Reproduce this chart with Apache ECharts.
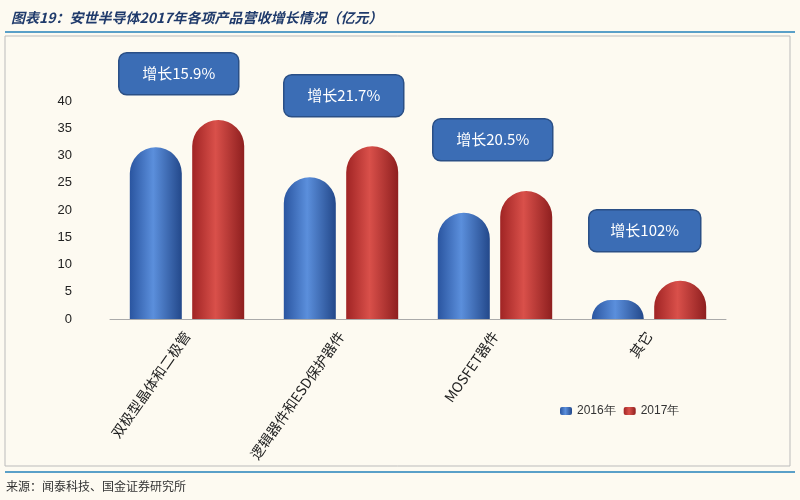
<!DOCTYPE html>
<html><head><meta charset="utf-8">
<script src="https://cdn.jsdelivr.net/npm/echarts@6/dist/echarts.min.js"></script>
<style>body{margin:0;background:#fdfaf1}#c{width:800px;height:500px}</style>
</head><body><div id="c"></div>
<script>
const categories = ['双极型晶体和二极管','逻辑器件和ESD保护器件','MOSFET器件','其它'];
const v2016 = [31.5, 26, 19.5, 3.5];
const v2017 = [36.5, 31.7, 23.5, 7];
const growth = ['增长15.9%','增长21.7%','增长20.5%','增长102%'];
const yTicks = [0,5,10,15,20,25,30,35,40];
const chart = echarts.init(document.getElementById('c'));
function grad(a,b,c){return new echarts.graphic.LinearGradient(0,0,1,0,[{offset:0,color:a},{offset:0.45,color:b},{offset:1,color:c}]);}
const boxes = [[118,52],[283,74],[432,118],[588,209]];
chart.setOption({
  backgroundColor:'#fdfaf1',
  title:{text:'图表19：安世半导体2017年各项产品营收增长情况（亿元）',left:6,top:6,textStyle:{fontSize:14,fontWeight:'bold',fontStyle:'italic',color:'#1f3a6b',fontFamily:'Noto Sans CJK SC'}},
  legend:{data:['2016年','2017年'],left:555,top:400,itemWidth:12,itemHeight:8,textStyle:{fontSize:12,color:'#333'}},
  grid:{left:110,right:74,top:101,bottom:181},
  xAxis:{type:'category',data:categories,axisLine:{lineStyle:{color:'#aaa'}},axisTick:{show:false},
    axisLabel:{rotate:55,fontSize:14,color:'#222',fontFamily:'Noto Sans CJK SC',margin:14}},
  yAxis:{type:'value',min:0,max:40,interval:5,splitLine:{show:false},axisLine:{show:false},axisTick:{show:false},
    axisLabel:{fontSize:13,color:'#222',margin:38,formatter:v=>yTicks.includes(v)?String(v):''}},
  series:[
    {name:'2016年',type:'bar',data:v2016,barWidth:52,barGap:'20%',itemStyle:{color:grad('#2a55a0','#5b8fdc','#23488a'),borderRadius:[26,26,0,0]}},
    {name:'2017年',type:'bar',data:v2017,barWidth:52,itemStyle:{color:grad('#a02424','#d9504a','#8e1f1f'),borderRadius:[26,26,0,0]}}
  ],
  graphic:[
    ...growth.map((t,i)=>({type:'group',left:boxes[i][0],top:boxes[i][1],children:[
      {type:'rect',shape:{x:0,y:0,width:i==3?112:120,height:42,r:8},style:{fill:'#3b6db5',stroke:'#2a4f86',lineWidth:1.5}},
      {type:'text',style:{x:(i==3?112:120)/2,y:21,text:t,fill:'#fff',font:'15px "Noto Sans CJK SC"',align:'center',verticalAlign:'middle'}}]})),
    {type:'line',shape:{x1:5,y1:32,x2:795,y2:32},style:{stroke:'#5aa0c8',lineWidth:2}},
    {type:'rect',shape:{x:5,y:36,width:785,height:430},style:{fill:'none',stroke:'#bbb',lineWidth:1}},
    {type:'line',shape:{x1:5,y1:472,x2:795,y2:472},style:{stroke:'#5aa0c8',lineWidth:2}},
    {type:'text',left:6,top:480,style:{text:'来源：闻泰科技、国金证券研究所',fill:'#333',font:'12px "Noto Sans CJK SC"'}}
  ]
});
</script></body></html>
